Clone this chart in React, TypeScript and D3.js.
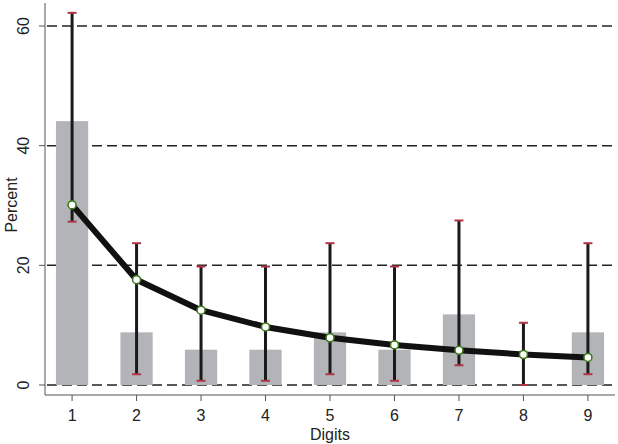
import * as d3 from "d3";

const digits = [1, 2, 3, 4, 5, 6, 7, 8, 9];
const observed = [44.1, 8.8, 5.9, 5.9, 8.8, 5.9, 11.8, 0, 8.8];
const benford = [30.1, 17.6, 12.5, 9.7, 7.9, 6.7, 5.8, 5.1, 4.6];
const ciLow = [27.3, 1.8, 0.7, 0.7, 1.8, 0.7, 3.3, 0, 1.8];
const ciHigh = [62.2, 23.7, 19.8, 19.8, 23.7, 19.8, 27.5, 10.4, 23.7];
const yTicks = [0, 20, 40, 60];

const W = 618;
const H = 444;

export default function App() {
  const x = d3.scaleLinear().domain([0.58, 9.42]).range([45, 615]);
  const y = d3.scaleLinear().domain([0, 60]).range([385, 26]);
  const bw = (x(2) - x(1)) * 0.5;

  const line = d3
    .line<number>()
    .x((_, i) => x(digits[i]))
    .y((d) => y(d));

  const font = "'Liberation Sans', Arial, sans-serif";

  return (
    <svg
      width={W}
      height={H}
      style={{ position: "absolute", left: 0, top: 0, background: "#fff" }}
      fontFamily={font}
    >
      {/* gridlines + y ticks */}
      {yTicks.map((t) => (
        <g key={t}>
          <line x1={39} x2={45} y1={y(t)} y2={y(t)} stroke="#555" strokeWidth={1} />
          <line
            x1={47}
            x2={615}
            y1={y(t)}
            y2={y(t)}
            stroke="#222"
            strokeWidth={1.5}
            strokeDasharray="10,5"
          />
          <text
            transform={`translate(29,${y(t)}) rotate(-90)`}
            textAnchor="middle"
            fontSize={16}
            fill="#222"
          >
            {t}
          </text>
        </g>
      ))}

      {/* bars */}
      {digits.map((d, i) => (
        <rect
          key={d}
          x={x(d) - bw / 2}
          width={bw}
          y={y(observed[i])}
          height={y(0) - y(observed[i])}
          fill="#b3b4b8"
        />
      ))}

      {/* axes */}
      <line x1={45} x2={45} y1={3} y2={395} stroke="#555" strokeWidth={1} />
      <line x1={45} x2={615} y1={395} y2={395} stroke="#555" strokeWidth={1} />
      {digits.map((d) => (
        <g key={d}>
          <line x1={x(d)} x2={x(d)} y1={395} y2={401} stroke="#555" strokeWidth={1} />
          <text x={x(d)} y={421} textAnchor="middle" fontSize={16} fill="#222">
            {d}
          </text>
        </g>
      ))}
      <text x={330} y={440} textAnchor="middle" fontSize={16} fill="#222">
        Digits
      </text>
      <text
        transform={`translate(17,205) rotate(-90)`}
        textAnchor="middle"
        fontSize={16}
        fill="#222"
      >
        Percent
      </text>

      {/* error bars */}
      {digits.map((d, i) => (
        <g key={d}>
          <line
            x1={x(d)}
            x2={x(d)}
            y1={y(ciLow[i])}
            y2={y(ciHigh[i])}
            stroke="#1a1a1a"
            strokeWidth={3}
          />
          <line x1={x(d) - 4.5} x2={x(d) + 4.5} y1={y(ciHigh[i])} y2={y(ciHigh[i])} stroke="#b03545" strokeWidth={2} />
          <line x1={x(d) - 4.5} x2={x(d) + 4.5} y1={y(ciLow[i])} y2={y(ciLow[i])} stroke="#b03545" strokeWidth={2} />
        </g>
      ))}

      {/* benford curve */}
      <path d={line(benford) ?? ""} fill="none" stroke="#111" strokeWidth={6} strokeLinejoin="round" />
      {digits.map((d, i) => (
        <circle
          key={d}
          cx={x(d)}
          cy={y(benford[i])}
          r={4}
          fill="#fff"
          stroke="#3d7a1c"
          strokeWidth={1.6}
        />
      ))}
    </svg>
  );
}
